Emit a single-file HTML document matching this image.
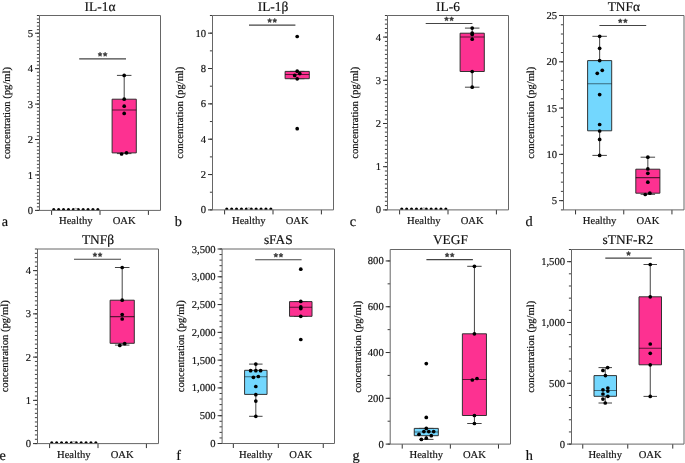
<!DOCTYPE html><html><head><meta charset="utf-8"><style>html,body{margin:0;padding:0;background:#fff;}svg{display:block;will-change:transform;}text{text-rendering:geometricPrecision;stroke:#111;stroke-width:0.18px;}</style></head><body>
<svg width="685" height="463" viewBox="0 0 685 463" font-family='"Liberation Serif", serif' stroke-linejoin="round">
<rect width="685" height="463" fill="#fff"/>
<defs><clipPath id="clip0"><rect x="39.5" y="15.5" width="121.0" height="194.9"/></clipPath></defs>
<text x="100.0" y="10.8" font-size="13.4" text-anchor="middle" fill="#111">IL-1α</text>
<text transform="translate(10.0,113.0) rotate(-90)" font-size="10.6" text-anchor="middle" fill="#111">concentration (pg/ml)</text>
<text x="1.8" y="226.0" font-size="14.3" fill="#111">a</text>
<path d="M36.90 210.40H39.5M36.90 206.86H39.5M36.90 203.31H39.5M36.90 199.77H39.5M36.90 196.23H39.5M36.90 192.68H39.5M36.90 189.14H39.5M36.90 185.59H39.5M36.90 182.05H39.5M36.90 178.51H39.5M36.90 174.96H39.5M36.90 171.42H39.5M36.90 167.88H39.5M36.90 164.33H39.5M36.90 160.79H39.5M36.90 157.25H39.5M36.90 153.70H39.5M36.90 150.16H39.5M36.90 146.61H39.5M36.90 143.07H39.5M36.90 139.53H39.5M36.90 135.98H39.5M36.90 132.44H39.5M36.90 128.90H39.5M36.90 125.35H39.5M36.90 121.81H39.5M36.90 118.27H39.5M36.90 114.72H39.5M36.90 111.18H39.5M36.90 107.63H39.5M36.90 104.09H39.5M36.90 100.55H39.5M36.90 97.00H39.5M36.90 93.46H39.5M36.90 89.92H39.5M36.90 86.37H39.5M36.90 82.83H39.5M36.90 79.29H39.5M36.90 75.74H39.5M36.90 72.20H39.5M36.90 68.65H39.5M36.90 65.11H39.5M36.90 61.57H39.5M36.90 58.02H39.5M36.90 54.48H39.5M36.90 50.94H39.5M36.90 47.39H39.5M36.90 43.85H39.5M36.90 40.31H39.5M36.90 36.76H39.5M36.90 33.22H39.5M36.90 29.67H39.5M36.90 26.13H39.5M36.90 22.59H39.5M36.90 19.04H39.5M36.90 15.50H39.5" stroke="#333" stroke-width="0.95" fill="none"/>
<text x="33.0" y="213.9" font-size="10.6" text-anchor="end" fill="#111">0</text>
<text x="33.0" y="178.5" font-size="10.6" text-anchor="end" fill="#111">1</text>
<text x="33.0" y="143.0" font-size="10.6" text-anchor="end" fill="#111">2</text>
<text x="33.0" y="107.6" font-size="10.6" text-anchor="end" fill="#111">3</text>
<text x="33.0" y="72.2" font-size="10.6" text-anchor="end" fill="#111">4</text>
<text x="33.0" y="36.7" font-size="10.6" text-anchor="end" fill="#111">5</text>
<path d="M35.00 210.40H39.5M35.00 174.96H39.5M35.00 139.53H39.5M35.00 104.09H39.5M35.00 68.65H39.5M35.00 33.22H39.5" stroke="#333" stroke-width="1" fill="none"/>
<path d="M51.60 210.4V214.90M100.00 210.4V214.90M148.40 210.4V214.90" stroke="#333" stroke-width="1" fill="none"/>
<text x="75.8" y="223.7" font-size="10.6" text-anchor="middle" fill="#111">Healthy</text>
<text x="124.2" y="223.7" font-size="10.6" text-anchor="middle" fill="#111">OAK</text>
<g clip-path="url(#clip0)">
<circle cx="53.75" cy="209.50" r="1.55" fill="#000"/>
<circle cx="58.65" cy="209.50" r="1.55" fill="#000"/>
<circle cx="63.55" cy="209.50" r="1.55" fill="#000"/>
<circle cx="68.45" cy="209.50" r="1.55" fill="#000"/>
<circle cx="73.35" cy="209.50" r="1.55" fill="#000"/>
<circle cx="78.25" cy="209.50" r="1.55" fill="#000"/>
<circle cx="83.15" cy="209.50" r="1.55" fill="#000"/>
<circle cx="88.05" cy="209.50" r="1.55" fill="#000"/>
<circle cx="92.95" cy="209.50" r="1.55" fill="#000"/>
<circle cx="97.85" cy="209.50" r="1.55" fill="#000"/>
<circle cx="75.80" cy="209.50" r="1.3" fill="#eee" stroke="#888" stroke-width="0.6"/>
<path d="M124.20 75.40V99.20M124.20 152.90V153.60M116.94 75.40H131.46M116.94 153.60H131.46" stroke="#444" stroke-width="1" fill="none"/>
<rect x="112.10" y="99.20" width="24.20" height="53.70" fill="#fd3191" stroke="#2a2a2a" stroke-opacity="0.95" stroke-width="1"/>
<path d="M112.10 110.00H136.30" stroke="#000" stroke-opacity="0.62" stroke-width="1.05"/>
<circle cx="124.20" cy="75.40" r="1.85" fill="#000"/>
<circle cx="124.20" cy="99.20" r="1.85" fill="#000"/>
<circle cx="124.20" cy="106.20" r="1.85" fill="#000"/>
<circle cx="124.20" cy="113.40" r="1.85" fill="#000"/>
<circle cx="121.60" cy="154.00" r="1.85" fill="#000"/>
<circle cx="126.50" cy="152.80" r="1.85" fill="#000"/>
</g>
<rect x="39.5" y="15.5" width="121.00" height="194.90" fill="none" stroke="#666" stroke-width="1"/>
<path d="M79.2 58.9H126.0" stroke="#444" stroke-width="1.1"/>
<polygon points="100.05,52.15 100.70,53.51 102.19,53.70 101.10,54.74 101.37,56.22 100.05,55.50 98.73,56.22 99.00,54.74 97.91,53.70 99.40,53.51" fill="#3c3c3c" stroke="#3c3c3c" stroke-width="0.6" stroke-linejoin="round"/>
<polygon points="105.15,52.15 105.80,53.51 107.29,53.70 106.20,54.74 106.47,56.22 105.15,55.50 103.83,56.22 104.10,54.74 103.01,53.70 104.50,53.51" fill="#3c3c3c" stroke="#3c3c3c" stroke-width="0.6" stroke-linejoin="round"/>
<defs><clipPath id="clip1"><rect x="212.5" y="15.5" width="121.0" height="194.4"/></clipPath></defs>
<text x="273.0" y="10.8" font-size="13.4" text-anchor="middle" fill="#111">IL-1β</text>
<text transform="translate(182.9,112.7) rotate(-90)" font-size="10.6" text-anchor="middle" fill="#111">concentration (pg/ml)</text>
<text x="174.8" y="226.0" font-size="14.3" fill="#111">b</text>
<path d="M209.90 209.90H212.5M209.90 192.23H212.5M209.90 174.55H212.5M209.90 156.88H212.5M209.90 139.21H212.5M209.90 121.54H212.5M209.90 103.86H212.5M209.90 86.19H212.5M209.90 68.52H212.5M209.90 50.85H212.5M209.90 33.17H212.5M209.90 15.50H212.5" stroke="#333" stroke-width="0.95" fill="none"/>
<text x="206.0" y="213.4" font-size="10.6" text-anchor="end" fill="#111">0</text>
<text x="206.0" y="178.1" font-size="10.6" text-anchor="end" fill="#111">2</text>
<text x="206.0" y="142.7" font-size="10.6" text-anchor="end" fill="#111">4</text>
<text x="206.0" y="107.4" font-size="10.6" text-anchor="end" fill="#111">6</text>
<text x="206.0" y="72.0" font-size="10.6" text-anchor="end" fill="#111">8</text>
<text x="206.0" y="36.7" font-size="10.6" text-anchor="end" fill="#111">10</text>
<path d="M208.00 209.90H212.5M208.00 174.55H212.5M208.00 139.21H212.5M208.00 103.86H212.5M208.00 68.52H212.5M208.00 33.17H212.5" stroke="#333" stroke-width="1" fill="none"/>
<path d="M224.60 209.9V214.40M273.00 209.9V214.40M321.40 209.9V214.40" stroke="#333" stroke-width="1" fill="none"/>
<text x="248.8" y="223.7" font-size="10.6" text-anchor="middle" fill="#111">Healthy</text>
<text x="297.2" y="223.7" font-size="10.6" text-anchor="middle" fill="#111">OAK</text>
<g clip-path="url(#clip1)">
<circle cx="226.75" cy="209.00" r="1.55" fill="#000"/>
<circle cx="231.65" cy="209.00" r="1.55" fill="#000"/>
<circle cx="236.55" cy="209.00" r="1.55" fill="#000"/>
<circle cx="241.45" cy="209.00" r="1.55" fill="#000"/>
<circle cx="246.35" cy="209.00" r="1.55" fill="#000"/>
<circle cx="251.25" cy="209.00" r="1.55" fill="#000"/>
<circle cx="256.15" cy="209.00" r="1.55" fill="#000"/>
<circle cx="261.05" cy="209.00" r="1.55" fill="#000"/>
<circle cx="265.95" cy="209.00" r="1.55" fill="#000"/>
<circle cx="270.85" cy="209.00" r="1.55" fill="#000"/>
<circle cx="248.80" cy="209.00" r="1.3" fill="#eee" stroke="#888" stroke-width="0.6"/>
<path d="M297.20 71.40V71.40M297.20 78.70V78.70M289.94 71.40H304.46M289.94 78.70H304.46" stroke="#444" stroke-width="1" fill="none"/>
<rect x="285.10" y="71.40" width="24.20" height="7.30" fill="#fd3191" stroke="#2a2a2a" stroke-opacity="0.95" stroke-width="1"/>
<path d="M285.10 74.40H309.30" stroke="#000" stroke-opacity="0.62" stroke-width="1.05"/>
<circle cx="297.20" cy="36.50" r="1.85" fill="#000"/>
<circle cx="297.20" cy="71.20" r="1.85" fill="#000"/>
<circle cx="299.80" cy="73.60" r="1.85" fill="#000"/>
<circle cx="294.70" cy="75.40" r="1.85" fill="#000"/>
<circle cx="297.20" cy="78.80" r="1.85" fill="#000"/>
<circle cx="297.20" cy="128.70" r="1.85" fill="#000"/>
</g>
<rect x="212.5" y="15.5" width="121.00" height="194.40" fill="none" stroke="#666" stroke-width="1"/>
<path d="M249.0 25.1H295.4" stroke="#444" stroke-width="1.1"/>
<polygon points="269.65,18.35 270.30,19.71 271.79,19.90 270.70,20.94 270.97,22.42 269.65,21.70 268.33,22.42 268.60,20.94 267.51,19.90 269.00,19.71" fill="#3c3c3c" stroke="#3c3c3c" stroke-width="0.6" stroke-linejoin="round"/>
<polygon points="274.75,18.35 275.40,19.71 276.89,19.90 275.80,20.94 276.07,22.42 274.75,21.70 273.43,22.42 273.70,20.94 272.61,19.90 274.10,19.71" fill="#3c3c3c" stroke="#3c3c3c" stroke-width="0.6" stroke-linejoin="round"/>
<defs><clipPath id="clip2"><rect x="387.5" y="15.5" width="121.0" height="194.4"/></clipPath></defs>
<text x="448.0" y="10.8" font-size="13.4" text-anchor="middle" fill="#111">IL-6</text>
<text transform="translate(358.0,112.7) rotate(-90)" font-size="10.6" text-anchor="middle" fill="#111">concentration (pg/ml)</text>
<text x="349.8" y="226.0" font-size="14.3" fill="#111">c</text>
<path d="M384.90 209.90H387.5M384.90 205.58H387.5M384.90 201.26H387.5M384.90 196.94H387.5M384.90 192.62H387.5M384.90 188.30H387.5M384.90 183.98H387.5M384.90 179.66H387.5M384.90 175.34H387.5M384.90 171.02H387.5M384.90 166.70H387.5M384.90 162.38H387.5M384.90 158.06H387.5M384.90 153.74H387.5M384.90 149.42H387.5M384.90 145.10H387.5M384.90 140.78H387.5M384.90 136.46H387.5M384.90 132.14H387.5M384.90 127.82H387.5M384.90 123.50H387.5M384.90 119.18H387.5M384.90 114.86H387.5M384.90 110.54H387.5M384.90 106.22H387.5M384.90 101.90H387.5M384.90 97.58H387.5M384.90 93.26H387.5M384.90 88.94H387.5M384.90 84.62H387.5M384.90 80.30H387.5M384.90 75.98H387.5M384.90 71.66H387.5M384.90 67.34H387.5M384.90 63.02H387.5M384.90 58.70H387.5M384.90 54.38H387.5M384.90 50.06H387.5M384.90 45.74H387.5M384.90 41.42H387.5M384.90 37.10H387.5M384.90 32.78H387.5M384.90 28.46H387.5M384.90 24.14H387.5M384.90 19.82H387.5M384.90 15.50H387.5" stroke="#333" stroke-width="0.95" fill="none"/>
<text x="381.0" y="213.4" font-size="10.6" text-anchor="end" fill="#111">0</text>
<text x="381.0" y="170.2" font-size="10.6" text-anchor="end" fill="#111">1</text>
<text x="381.0" y="127.0" font-size="10.6" text-anchor="end" fill="#111">2</text>
<text x="381.0" y="83.8" font-size="10.6" text-anchor="end" fill="#111">3</text>
<text x="381.0" y="40.6" font-size="10.6" text-anchor="end" fill="#111">4</text>
<path d="M383.00 209.90H387.5M383.00 166.70H387.5M383.00 123.50H387.5M383.00 80.30H387.5M383.00 37.10H387.5" stroke="#333" stroke-width="1" fill="none"/>
<path d="M399.60 209.9V214.40M448.00 209.9V214.40M496.40 209.9V214.40" stroke="#333" stroke-width="1" fill="none"/>
<text x="423.8" y="223.7" font-size="10.6" text-anchor="middle" fill="#111">Healthy</text>
<text x="472.2" y="223.7" font-size="10.6" text-anchor="middle" fill="#111">OAK</text>
<g clip-path="url(#clip2)">
<circle cx="401.75" cy="209.00" r="1.55" fill="#000"/>
<circle cx="406.65" cy="209.00" r="1.55" fill="#000"/>
<circle cx="411.55" cy="209.00" r="1.55" fill="#000"/>
<circle cx="416.45" cy="209.00" r="1.55" fill="#000"/>
<circle cx="421.35" cy="209.00" r="1.55" fill="#000"/>
<circle cx="426.25" cy="209.00" r="1.55" fill="#000"/>
<circle cx="431.15" cy="209.00" r="1.55" fill="#000"/>
<circle cx="436.05" cy="209.00" r="1.55" fill="#000"/>
<circle cx="440.95" cy="209.00" r="1.55" fill="#000"/>
<circle cx="445.85" cy="209.00" r="1.55" fill="#000"/>
<circle cx="423.80" cy="209.00" r="1.3" fill="#eee" stroke="#888" stroke-width="0.6"/>
<path d="M472.20 28.10V33.20M472.20 71.50V87.20M464.94 28.10H479.46M464.94 87.20H479.46" stroke="#444" stroke-width="1" fill="none"/>
<rect x="460.10" y="33.20" width="24.20" height="38.30" fill="#fd3191" stroke="#2a2a2a" stroke-opacity="0.95" stroke-width="1"/>
<path d="M460.10 37.00H484.30" stroke="#000" stroke-opacity="0.62" stroke-width="1.05"/>
<circle cx="472.20" cy="28.10" r="1.85" fill="#000"/>
<circle cx="472.20" cy="33.00" r="1.85" fill="#000"/>
<circle cx="472.20" cy="34.50" r="1.85" fill="#000"/>
<circle cx="472.20" cy="39.20" r="1.85" fill="#000"/>
<circle cx="472.20" cy="71.50" r="1.85" fill="#000"/>
<circle cx="472.20" cy="87.20" r="1.85" fill="#000"/>
</g>
<rect x="387.5" y="15.5" width="121.00" height="194.40" fill="none" stroke="#666" stroke-width="1"/>
<path d="M425.7 23.5H472.4" stroke="#444" stroke-width="1.1"/>
<polygon points="446.50,16.75 447.15,18.11 448.64,18.30 447.55,19.34 447.82,20.82 446.50,20.10 445.18,20.82 445.45,19.34 444.36,18.30 445.85,18.11" fill="#3c3c3c" stroke="#3c3c3c" stroke-width="0.6" stroke-linejoin="round"/>
<polygon points="451.60,16.75 452.25,18.11 453.74,18.30 452.65,19.34 452.92,20.82 451.60,20.10 450.28,20.82 450.55,19.34 449.46,18.30 450.95,18.11" fill="#3c3c3c" stroke="#3c3c3c" stroke-width="0.6" stroke-linejoin="round"/>
<defs><clipPath id="clip3"><rect x="563.5" y="15.5" width="120.5" height="194.4"/></clipPath></defs>
<text x="623.8" y="10.8" font-size="13.4" text-anchor="middle" fill="#111">TNFα</text>
<text transform="translate(533.6,112.7) rotate(-90)" font-size="10.6" text-anchor="middle" fill="#111">concentration (pg/ml)</text>
<text x="525.6" y="226.0" font-size="14.3" fill="#111">d</text>
<path d="M560.90 209.90H563.5M560.90 200.64H563.5M560.90 191.39H563.5M560.90 182.13H563.5M560.90 172.87H563.5M560.90 163.61H563.5M560.90 154.36H563.5M560.90 145.10H563.5M560.90 135.84H563.5M560.90 126.59H563.5M560.90 117.33H563.5M560.90 108.07H563.5M560.90 98.81H563.5M560.90 89.56H563.5M560.90 80.30H563.5M560.90 71.04H563.5M560.90 61.79H563.5M560.90 52.53H563.5M560.90 43.27H563.5M560.90 34.01H563.5M560.90 24.76H563.5M560.90 15.50H563.5" stroke="#333" stroke-width="0.95" fill="none"/>
<text x="557.0" y="204.1" font-size="10.6" text-anchor="end" fill="#111">5</text>
<text x="557.0" y="157.9" font-size="10.6" text-anchor="end" fill="#111">10</text>
<text x="557.0" y="111.6" font-size="10.6" text-anchor="end" fill="#111">15</text>
<text x="557.0" y="65.3" font-size="10.6" text-anchor="end" fill="#111">20</text>
<text x="557.0" y="19.0" font-size="10.6" text-anchor="end" fill="#111">25</text>
<path d="M559.00 200.64H563.5M559.00 154.36H563.5M559.00 108.07H563.5M559.00 61.79H563.5M559.00 15.50H563.5" stroke="#333" stroke-width="1" fill="none"/>
<path d="M575.55 209.9V214.40M623.75 209.9V214.40M671.95 209.9V214.40" stroke="#333" stroke-width="1" fill="none"/>
<text x="599.6" y="223.7" font-size="10.6" text-anchor="middle" fill="#111">Healthy</text>
<text x="647.9" y="223.7" font-size="10.6" text-anchor="middle" fill="#111">OAK</text>
<g clip-path="url(#clip3)">
<path d="M599.65 36.30V60.60M599.65 130.80V155.40M592.42 36.30H606.88M592.42 155.40H606.88" stroke="#444" stroke-width="1" fill="none"/>
<rect x="587.60" y="60.60" width="24.10" height="70.20" fill="#73d7fe" stroke="#2a2a2a" stroke-opacity="0.95" stroke-width="1"/>
<path d="M587.60 83.70H611.70" stroke="#000" stroke-opacity="0.5" stroke-width="1.05"/>
<circle cx="599.65" cy="36.30" r="1.85" fill="#000"/>
<circle cx="599.65" cy="48.30" r="1.85" fill="#000"/>
<circle cx="599.65" cy="60.60" r="1.85" fill="#000"/>
<circle cx="602.25" cy="70.30" r="1.85" fill="#000"/>
<circle cx="597.25" cy="73.30" r="1.85" fill="#000"/>
<circle cx="599.65" cy="94.60" r="1.85" fill="#000"/>
<circle cx="599.65" cy="124.50" r="1.85" fill="#000"/>
<circle cx="599.65" cy="131.00" r="1.85" fill="#000"/>
<circle cx="599.65" cy="139.40" r="1.85" fill="#000"/>
<circle cx="599.65" cy="155.40" r="1.85" fill="#000"/>
<path d="M647.85 157.20V169.20M647.85 193.20V194.30M640.62 157.20H655.08M640.62 194.30H655.08" stroke="#444" stroke-width="1" fill="none"/>
<rect x="635.80" y="169.20" width="24.10" height="24.00" fill="#fd3191" stroke="#2a2a2a" stroke-opacity="0.95" stroke-width="1"/>
<path d="M635.80 177.60H659.90" stroke="#000" stroke-opacity="0.62" stroke-width="1.05"/>
<circle cx="647.85" cy="157.20" r="1.85" fill="#000"/>
<circle cx="647.85" cy="168.90" r="1.85" fill="#000"/>
<circle cx="647.85" cy="173.30" r="1.85" fill="#000"/>
<circle cx="647.85" cy="182.20" r="1.85" fill="#000"/>
<circle cx="645.25" cy="194.50" r="1.85" fill="#000"/>
<circle cx="649.85" cy="193.20" r="1.85" fill="#000"/>
</g>
<rect x="563.5" y="15.5" width="120.50" height="194.40" fill="none" stroke="#666" stroke-width="1"/>
<path d="M599.4 25.5H646.2" stroke="#444" stroke-width="1.1"/>
<polygon points="620.25,18.75 620.90,20.11 622.39,20.30 621.30,21.34 621.57,22.82 620.25,22.10 618.93,22.82 619.20,21.34 618.11,20.30 619.60,20.11" fill="#3c3c3c" stroke="#3c3c3c" stroke-width="0.6" stroke-linejoin="round"/>
<polygon points="625.35,18.75 626.00,20.11 627.49,20.30 626.40,21.34 626.67,22.82 625.35,22.10 624.03,22.82 624.30,21.34 623.21,20.30 624.70,20.11" fill="#3c3c3c" stroke="#3c3c3c" stroke-width="0.6" stroke-linejoin="round"/>
<defs><clipPath id="clip4"><rect x="37.5" y="249.0" width="121.0" height="194.60000000000002"/></clipPath></defs>
<text x="98.0" y="244.0" font-size="13.4" text-anchor="middle" fill="#111">TNFβ</text>
<text transform="translate(8.2,346.3) rotate(-90)" font-size="10.6" text-anchor="middle" fill="#111">concentration (pg/ml)</text>
<text x="-0.4" y="459.6" font-size="14.3" fill="#111">e</text>
<path d="M34.90 443.60H37.5M34.90 439.28H37.5M34.90 434.95H37.5M34.90 430.63H37.5M34.90 426.30H37.5M34.90 421.98H37.5M34.90 417.65H37.5M34.90 413.33H37.5M34.90 409.00H37.5M34.90 404.68H37.5M34.90 400.36H37.5M34.90 396.03H37.5M34.90 391.71H37.5M34.90 387.38H37.5M34.90 383.06H37.5M34.90 378.73H37.5M34.90 374.41H37.5M34.90 370.08H37.5M34.90 365.76H37.5M34.90 361.44H37.5M34.90 357.11H37.5M34.90 352.79H37.5M34.90 348.46H37.5M34.90 344.14H37.5M34.90 339.81H37.5M34.90 335.49H37.5M34.90 331.16H37.5M34.90 326.84H37.5M34.90 322.52H37.5M34.90 318.19H37.5M34.90 313.87H37.5M34.90 309.54H37.5M34.90 305.22H37.5M34.90 300.89H37.5M34.90 296.57H37.5M34.90 292.24H37.5M34.90 287.92H37.5M34.90 283.60H37.5M34.90 279.27H37.5M34.90 274.95H37.5M34.90 270.62H37.5M34.90 266.30H37.5M34.90 261.97H37.5M34.90 257.65H37.5M34.90 253.32H37.5M34.90 249.00H37.5" stroke="#333" stroke-width="0.95" fill="none"/>
<text x="31.0" y="447.1" font-size="10.6" text-anchor="end" fill="#111">0</text>
<text x="31.0" y="403.9" font-size="10.6" text-anchor="end" fill="#111">1</text>
<text x="31.0" y="360.6" font-size="10.6" text-anchor="end" fill="#111">2</text>
<text x="31.0" y="317.4" font-size="10.6" text-anchor="end" fill="#111">3</text>
<text x="31.0" y="274.1" font-size="10.6" text-anchor="end" fill="#111">4</text>
<path d="M33.00 443.60H37.5M33.00 400.36H37.5M33.00 357.11H37.5M33.00 313.87H37.5M33.00 270.62H37.5" stroke="#333" stroke-width="1" fill="none"/>
<path d="M49.60 443.6V448.10M98.00 443.6V448.10M146.40 443.6V448.10" stroke="#333" stroke-width="1" fill="none"/>
<text x="73.8" y="458.2" font-size="10.6" text-anchor="middle" fill="#111">Healthy</text>
<text x="122.2" y="458.2" font-size="10.6" text-anchor="middle" fill="#111">OAK</text>
<g clip-path="url(#clip4)">
<circle cx="51.75" cy="442.70" r="1.55" fill="#000"/>
<circle cx="56.65" cy="442.70" r="1.55" fill="#000"/>
<circle cx="61.55" cy="442.70" r="1.55" fill="#000"/>
<circle cx="66.45" cy="442.70" r="1.55" fill="#000"/>
<circle cx="71.35" cy="442.70" r="1.55" fill="#000"/>
<circle cx="76.25" cy="442.70" r="1.55" fill="#000"/>
<circle cx="81.15" cy="442.70" r="1.55" fill="#000"/>
<circle cx="86.05" cy="442.70" r="1.55" fill="#000"/>
<circle cx="90.95" cy="442.70" r="1.55" fill="#000"/>
<circle cx="95.85" cy="442.70" r="1.55" fill="#000"/>
<circle cx="73.80" cy="442.70" r="1.3" fill="#eee" stroke="#888" stroke-width="0.6"/>
<path d="M122.20 267.50V300.20M122.20 343.30V345.10M114.94 267.50H129.46M114.94 345.10H129.46" stroke="#444" stroke-width="1" fill="none"/>
<rect x="110.10" y="300.20" width="24.20" height="43.10" fill="#fd3191" stroke="#2a2a2a" stroke-opacity="0.95" stroke-width="1"/>
<path d="M110.10 316.60H134.30" stroke="#000" stroke-opacity="0.62" stroke-width="1.05"/>
<circle cx="122.20" cy="267.50" r="1.85" fill="#000"/>
<circle cx="122.20" cy="300.20" r="1.85" fill="#000"/>
<circle cx="122.20" cy="314.50" r="1.85" fill="#000"/>
<circle cx="122.20" cy="319.00" r="1.85" fill="#000"/>
<circle cx="119.80" cy="345.40" r="1.85" fill="#000"/>
<circle cx="124.70" cy="343.70" r="1.85" fill="#000"/>
</g>
<rect x="37.5" y="249.0" width="121.00" height="194.60" fill="none" stroke="#666" stroke-width="1"/>
<path d="M74.0 259.3H121.0" stroke="#444" stroke-width="1.1"/>
<polygon points="94.95,252.55 95.60,253.91 97.09,254.10 96.00,255.14 96.27,256.62 94.95,255.90 93.63,256.62 93.90,255.14 92.81,254.10 94.30,253.91" fill="#3c3c3c" stroke="#3c3c3c" stroke-width="0.6" stroke-linejoin="round"/>
<polygon points="100.05,252.55 100.70,253.91 102.19,254.10 101.10,255.14 101.37,256.62 100.05,255.90 98.73,256.62 99.00,255.14 97.91,254.10 99.40,253.91" fill="#3c3c3c" stroke="#3c3c3c" stroke-width="0.6" stroke-linejoin="round"/>
<defs><clipPath id="clip5"><rect x="222.1" y="249.0" width="112.4" height="194.5"/></clipPath></defs>
<text x="278.3" y="244.0" font-size="13.4" text-anchor="middle" fill="#111">sFAS</text>
<text transform="translate(184.2,346.2) rotate(-90)" font-size="10.6" text-anchor="middle" fill="#111">concentration (pg/ml)</text>
<text x="176.2" y="459.6" font-size="14.3" fill="#111">f</text>
<path d="M219.50 443.50H222.1M219.50 437.94H222.1M219.50 432.39H222.1M219.50 426.83H222.1M219.50 421.27H222.1M219.50 415.71H222.1M219.50 410.16H222.1M219.50 404.60H222.1M219.50 399.04H222.1M219.50 393.49H222.1M219.50 387.93H222.1M219.50 382.37H222.1M219.50 376.81H222.1M219.50 371.26H222.1M219.50 365.70H222.1M219.50 360.14H222.1M219.50 354.59H222.1M219.50 349.03H222.1M219.50 343.47H222.1M219.50 337.91H222.1M219.50 332.36H222.1M219.50 326.80H222.1M219.50 321.24H222.1M219.50 315.69H222.1M219.50 310.13H222.1M219.50 304.57H222.1M219.50 299.01H222.1M219.50 293.46H222.1M219.50 287.90H222.1M219.50 282.34H222.1M219.50 276.79H222.1M219.50 271.23H222.1M219.50 265.67H222.1M219.50 260.11H222.1M219.50 254.56H222.1M219.50 249.00H222.1" stroke="#333" stroke-width="0.95" fill="none"/>
<text x="215.6" y="447.0" font-size="10.6" text-anchor="end" fill="#111">0</text>
<text x="215.6" y="419.2" font-size="10.6" text-anchor="end" fill="#111">500</text>
<text x="215.6" y="391.4" font-size="10.6" text-anchor="end" fill="#111">1,000</text>
<text x="215.6" y="363.6" font-size="10.6" text-anchor="end" fill="#111">1,500</text>
<text x="215.6" y="335.9" font-size="10.6" text-anchor="end" fill="#111">2,000</text>
<text x="215.6" y="308.1" font-size="10.6" text-anchor="end" fill="#111">2,500</text>
<text x="215.6" y="280.3" font-size="10.6" text-anchor="end" fill="#111">3,000</text>
<text x="215.6" y="252.5" font-size="10.6" text-anchor="end" fill="#111">3,500</text>
<path d="M217.60 443.50H222.1M217.60 415.71H222.1M217.60 387.93H222.1M217.60 360.14H222.1M217.60 332.36H222.1M217.60 304.57H222.1M217.60 276.79H222.1M217.60 249.00H222.1" stroke="#333" stroke-width="1" fill="none"/>
<path d="M233.34 443.5V448.00M278.30 443.5V448.00M323.26 443.5V448.00" stroke="#333" stroke-width="1" fill="none"/>
<text x="255.8" y="458.2" font-size="10.6" text-anchor="middle" fill="#111">Healthy</text>
<text x="300.8" y="458.2" font-size="10.6" text-anchor="middle" fill="#111">OAK</text>
<g clip-path="url(#clip5)">
<path d="M255.82 364.10V370.30M255.82 394.40V416.30M249.08 364.10H262.56M249.08 416.30H262.56" stroke="#444" stroke-width="1" fill="none"/>
<rect x="244.58" y="370.30" width="22.48" height="24.10" fill="#73d7fe" stroke="#2a2a2a" stroke-opacity="0.95" stroke-width="1"/>
<path d="M244.58 376.80H267.06" stroke="#000" stroke-opacity="0.5" stroke-width="1.05"/>
<circle cx="255.82" cy="364.10" r="1.85" fill="#000"/>
<circle cx="250.62" cy="370.70" r="1.85" fill="#000"/>
<circle cx="255.82" cy="370.70" r="1.85" fill="#000"/>
<circle cx="260.62" cy="370.70" r="1.85" fill="#000"/>
<circle cx="253.42" cy="377.30" r="1.85" fill="#000"/>
<circle cx="258.32" cy="376.50" r="1.85" fill="#000"/>
<circle cx="255.82" cy="386.50" r="1.85" fill="#000"/>
<circle cx="255.82" cy="394.70" r="1.85" fill="#000"/>
<circle cx="255.82" cy="401.10" r="1.85" fill="#000"/>
<circle cx="255.82" cy="416.30" r="1.85" fill="#000"/>
<path d="M300.78 301.60V301.60M300.78 316.30V316.30M294.04 301.60H307.52M294.04 316.30H307.52" stroke="#444" stroke-width="1" fill="none"/>
<rect x="289.54" y="301.60" width="22.48" height="14.70" fill="#fd3191" stroke="#2a2a2a" stroke-opacity="0.95" stroke-width="1"/>
<path d="M289.54 307.30H312.02" stroke="#000" stroke-opacity="0.62" stroke-width="1.05"/>
<circle cx="300.78" cy="269.20" r="1.85" fill="#000"/>
<circle cx="300.78" cy="301.40" r="1.85" fill="#000"/>
<circle cx="300.78" cy="306.90" r="1.85" fill="#000"/>
<circle cx="300.78" cy="308.60" r="1.85" fill="#000"/>
<circle cx="300.78" cy="316.30" r="1.85" fill="#000"/>
<circle cx="300.78" cy="339.50" r="1.85" fill="#000"/>
</g>
<rect x="222.1" y="249.0" width="112.40" height="194.50" fill="none" stroke="#666" stroke-width="1"/>
<path d="M255.2 259.8H301.6" stroke="#444" stroke-width="1.1"/>
<polygon points="275.85,253.05 276.50,254.41 277.99,254.60 276.90,255.64 277.17,257.12 275.85,256.40 274.53,257.12 274.80,255.64 273.71,254.60 275.20,254.41" fill="#3c3c3c" stroke="#3c3c3c" stroke-width="0.6" stroke-linejoin="round"/>
<polygon points="280.95,253.05 281.60,254.41 283.09,254.60 282.00,255.64 282.27,257.12 280.95,256.40 279.63,257.12 279.90,255.64 278.81,254.60 280.30,254.41" fill="#3c3c3c" stroke="#3c3c3c" stroke-width="0.6" stroke-linejoin="round"/>
<defs><clipPath id="clip6"><rect x="390.2" y="249.5" width="120.30000000000001" height="194.60000000000002"/></clipPath></defs>
<text x="450.4" y="244.0" font-size="13.4" text-anchor="middle" fill="#111">VEGF</text>
<text transform="translate(360.9,346.8) rotate(-90)" font-size="10.6" text-anchor="middle" fill="#111">concentration (pg/ml)</text>
<text x="352.6" y="459.6" font-size="14.3" fill="#111">g</text>
<path d="M387.60 444.10H390.2M387.60 421.21H390.2M387.60 398.31H390.2M387.60 375.42H390.2M387.60 352.52H390.2M387.60 329.63H390.2M387.60 306.74H390.2M387.60 283.84H390.2M387.60 260.95H390.2" stroke="#333" stroke-width="0.95" fill="none"/>
<text x="383.7" y="447.6" font-size="10.6" text-anchor="end" fill="#111">0</text>
<text x="383.7" y="401.8" font-size="10.6" text-anchor="end" fill="#111">200</text>
<text x="383.7" y="356.0" font-size="10.6" text-anchor="end" fill="#111">400</text>
<text x="383.7" y="310.2" font-size="10.6" text-anchor="end" fill="#111">600</text>
<text x="383.7" y="264.4" font-size="10.6" text-anchor="end" fill="#111">800</text>
<path d="M385.70 444.10H390.2M385.70 398.31H390.2M385.70 352.52H390.2M385.70 306.74H390.2M385.70 260.95H390.2" stroke="#333" stroke-width="1" fill="none"/>
<path d="M402.23 444.1V448.60M450.35 444.1V448.60M498.47 444.1V448.60" stroke="#333" stroke-width="1" fill="none"/>
<text x="426.3" y="458.2" font-size="10.6" text-anchor="middle" fill="#111">Healthy</text>
<text x="474.4" y="458.2" font-size="10.6" text-anchor="middle" fill="#111">OAK</text>
<g clip-path="url(#clip6)">
<path d="M426.29 428.40V428.40M426.29 435.70V439.40M419.07 428.40H433.51M419.07 439.40H433.51" stroke="#444" stroke-width="1" fill="none"/>
<rect x="414.26" y="428.40" width="24.06" height="7.30" fill="#73d7fe" stroke="#2a2a2a" stroke-opacity="0.95" stroke-width="1"/>
<path d="M414.26 432.00H438.32" stroke="#000" stroke-opacity="0.5" stroke-width="1.05"/>
<circle cx="426.29" cy="363.60" r="1.85" fill="#000"/>
<circle cx="426.29" cy="417.40" r="1.85" fill="#000"/>
<circle cx="426.29" cy="428.40" r="1.85" fill="#000"/>
<circle cx="423.89" cy="431.60" r="1.85" fill="#000"/>
<circle cx="428.79" cy="431.60" r="1.85" fill="#000"/>
<circle cx="433.69" cy="431.60" r="1.85" fill="#000"/>
<circle cx="418.99" cy="434.30" r="1.85" fill="#000"/>
<circle cx="431.29" cy="435.70" r="1.85" fill="#000"/>
<circle cx="426.29" cy="438.20" r="1.85" fill="#000"/>
<circle cx="421.39" cy="439.40" r="1.85" fill="#000"/>
<path d="M474.41 266.30V333.80M474.41 415.50V423.50M467.19 266.30H481.63M467.19 423.50H481.63" stroke="#444" stroke-width="1" fill="none"/>
<rect x="462.38" y="333.80" width="24.06" height="81.70" fill="#fd3191" stroke="#2a2a2a" stroke-opacity="0.95" stroke-width="1"/>
<path d="M462.38 379.50H486.44" stroke="#000" stroke-opacity="0.62" stroke-width="1.05"/>
<circle cx="474.41" cy="266.30" r="1.85" fill="#000"/>
<circle cx="474.41" cy="333.80" r="1.85" fill="#000"/>
<circle cx="472.31" cy="380.00" r="1.85" fill="#000"/>
<circle cx="477.01" cy="378.50" r="1.85" fill="#000"/>
<circle cx="474.41" cy="415.50" r="1.85" fill="#000"/>
<circle cx="474.41" cy="423.50" r="1.85" fill="#000"/>
</g>
<rect x="390.2" y="249.5" width="120.30" height="194.60" fill="none" stroke="#666" stroke-width="1"/>
<path d="M426.4 259.6H472.9" stroke="#444" stroke-width="1.1"/>
<polygon points="447.10,252.85 447.75,254.21 449.24,254.40 448.15,255.44 448.42,256.92 447.10,256.20 445.78,256.92 446.05,255.44 444.96,254.40 446.45,254.21" fill="#3c3c3c" stroke="#3c3c3c" stroke-width="0.6" stroke-linejoin="round"/>
<polygon points="452.20,252.85 452.85,254.21 454.34,254.40 453.25,255.44 453.52,256.92 452.20,256.20 450.88,256.92 451.15,255.44 450.06,254.40 451.55,254.21" fill="#3c3c3c" stroke="#3c3c3c" stroke-width="0.6" stroke-linejoin="round"/>
<defs><clipPath id="clip7"><rect x="571.5" y="249.5" width="112.5" height="194.60000000000002"/></clipPath></defs>
<text x="627.8" y="244.0" font-size="13.4" text-anchor="middle" fill="#111">sTNF-R2</text>
<text transform="translate(534.0,346.8) rotate(-90)" font-size="10.6" text-anchor="middle" fill="#111">concentration (pg/ml)</text>
<text x="525.8" y="459.6" font-size="14.3" fill="#111">h</text>
<path d="M568.90 444.10H571.5M568.90 431.94H571.5M568.90 419.78H571.5M568.90 407.61H571.5M568.90 395.45H571.5M568.90 383.29H571.5M568.90 371.12H571.5M568.90 358.96H571.5M568.90 346.80H571.5M568.90 334.64H571.5M568.90 322.48H571.5M568.90 310.31H571.5M568.90 298.15H571.5M568.90 285.99H571.5M568.90 273.82H571.5M568.90 261.66H571.5M568.90 249.50H571.5" stroke="#333" stroke-width="0.95" fill="none"/>
<text x="565.0" y="447.6" font-size="10.6" text-anchor="end" fill="#111">0</text>
<text x="565.0" y="386.8" font-size="10.6" text-anchor="end" fill="#111">500</text>
<text x="565.0" y="326.0" font-size="10.6" text-anchor="end" fill="#111">1,000</text>
<text x="565.0" y="265.2" font-size="10.6" text-anchor="end" fill="#111">1,500</text>
<path d="M567.00 444.10H571.5M567.00 383.29H571.5M567.00 322.48H571.5M567.00 261.66H571.5" stroke="#333" stroke-width="1" fill="none"/>
<path d="M582.75 444.1V448.60M627.75 444.1V448.60M672.75 444.1V448.60" stroke="#333" stroke-width="1" fill="none"/>
<text x="605.2" y="458.2" font-size="10.6" text-anchor="middle" fill="#111">Healthy</text>
<text x="650.2" y="458.2" font-size="10.6" text-anchor="middle" fill="#111">OAK</text>
<g clip-path="url(#clip7)">
<path d="M605.25 367.60V375.60M605.25 396.30V403.00M598.50 367.60H612.00M598.50 403.00H612.00" stroke="#444" stroke-width="1" fill="none"/>
<rect x="594.00" y="375.60" width="22.50" height="20.70" fill="#73d7fe" stroke="#2a2a2a" stroke-opacity="0.95" stroke-width="1"/>
<path d="M594.00 390.40H616.50" stroke="#000" stroke-opacity="0.5" stroke-width="1.05"/>
<circle cx="607.65" cy="367.60" r="1.85" fill="#000"/>
<circle cx="602.95" cy="370.40" r="1.85" fill="#000"/>
<circle cx="605.45" cy="375.60" r="1.85" fill="#000"/>
<circle cx="607.85" cy="388.00" r="1.85" fill="#000"/>
<circle cx="602.95" cy="389.80" r="1.85" fill="#000"/>
<circle cx="607.85" cy="391.10" r="1.85" fill="#000"/>
<circle cx="602.95" cy="394.00" r="1.85" fill="#000"/>
<circle cx="607.85" cy="396.30" r="1.85" fill="#000"/>
<circle cx="602.95" cy="399.10" r="1.85" fill="#000"/>
<circle cx="605.25" cy="403.00" r="1.85" fill="#000"/>
<path d="M650.25 264.50V296.80M650.25 364.80V396.40M643.50 264.50H657.00M643.50 396.40H657.00" stroke="#444" stroke-width="1" fill="none"/>
<rect x="639.00" y="296.80" width="22.50" height="68.00" fill="#fd3191" stroke="#2a2a2a" stroke-opacity="0.95" stroke-width="1"/>
<path d="M639.00 348.20H661.50" stroke="#000" stroke-opacity="0.62" stroke-width="1.05"/>
<circle cx="650.25" cy="264.50" r="1.85" fill="#000"/>
<circle cx="650.25" cy="296.80" r="1.85" fill="#000"/>
<circle cx="650.25" cy="344.00" r="1.85" fill="#000"/>
<circle cx="650.25" cy="353.30" r="1.85" fill="#000"/>
<circle cx="650.25" cy="364.80" r="1.85" fill="#000"/>
<circle cx="650.25" cy="396.40" r="1.85" fill="#000"/>
</g>
<rect x="571.5" y="249.5" width="112.50" height="194.60" fill="none" stroke="#666" stroke-width="1"/>
<path d="M605.3 258.1H651.8" stroke="#444" stroke-width="1.1"/>
<polygon points="628.55,251.35 629.20,252.71 630.69,252.90 629.60,253.94 629.87,255.42 628.55,254.70 627.23,255.42 627.50,253.94 626.41,252.90 627.90,252.71" fill="#3c3c3c" stroke="#3c3c3c" stroke-width="0.6" stroke-linejoin="round"/>
</svg></body></html>
